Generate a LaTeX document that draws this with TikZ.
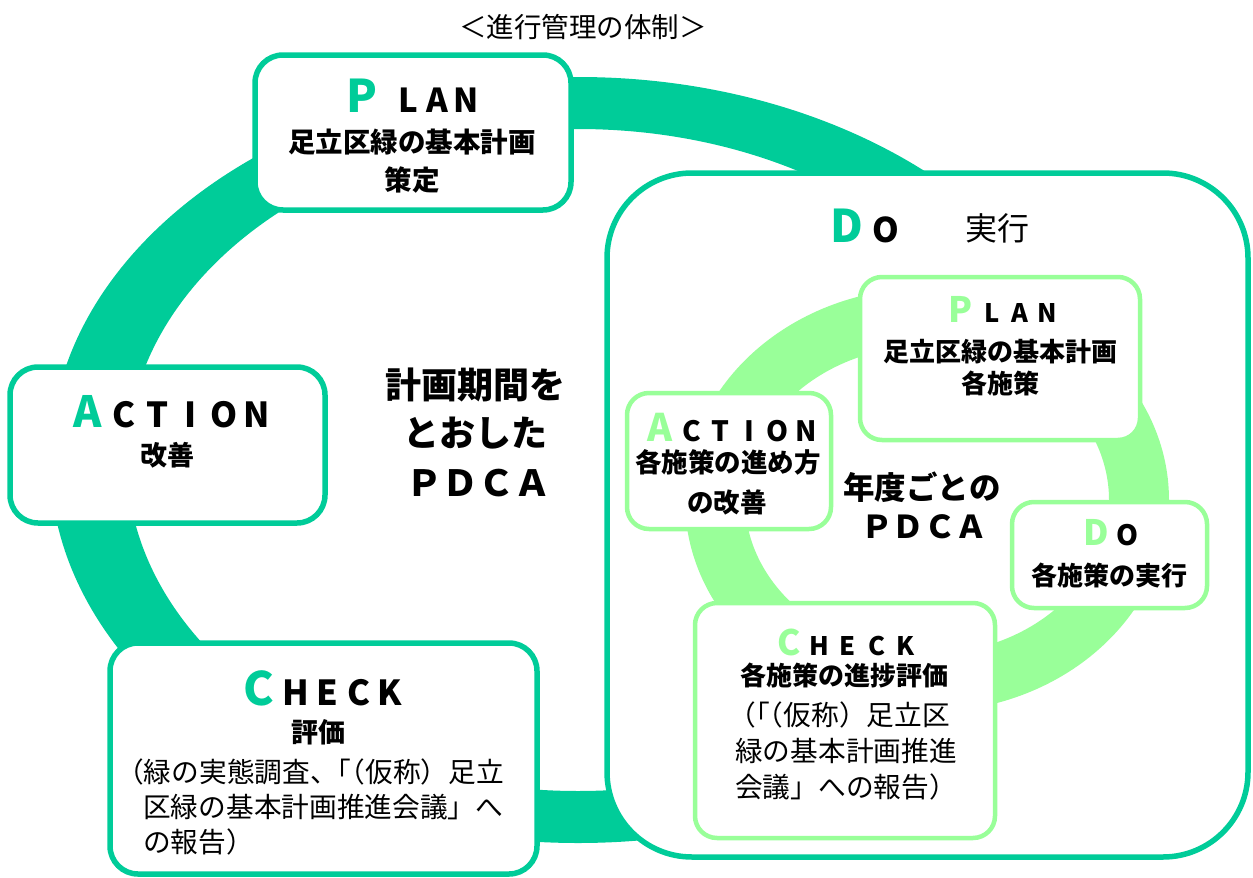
\documentclass[tikz,border=0pt]{standalone}
\usepackage{fontspec}
\setmainfont{Noto Sans CJK JP}
\definecolor{dg}{RGB}{0,204,153}
\definecolor{lg}{RGB}{153,255,153}
\newcommand\fs[1]{\fontsize{#1pt}{#1pt}\selectfont}
\newcommand\bx[2]{\makebox[#1pt]{#2}}
\tikzset{
  obox/.style={draw=dg, line width=5.5pt, fill=white, rounded corners=28pt, inner sep=0pt, rectangle},
  ibox/.style={draw=lg, line width=4.5pt, fill=white, rounded corners=22pt, inner sep=0pt, rectangle},
  bt/.style={inner sep=0pt, font=\bfseries\fs{#1}},
  rt/.style={inner sep=0pt, font=\fs{#1}},
  lt/.style={inner sep=0pt, anchor=base west, font=\bfseries},
}
\begin{document}
\begin{tikzpicture}[x=1pt,y=-1pt]
\useasboundingbox (0,0) rectangle (1253,878);
% title
\node[rt=27.5] (title) at (583,27) {＜進行管理の体制＞};
% outer ring
\fill[dg, even odd rule] (578,460) ellipse [x radius=528pt, y radius=383pt]
  (578,460) ellipse [x radius=451pt, y radius=331pt];
% outer boxes
\node[obox, minimum width=316pt, minimum height=155pt] (plan) at (413,132.5) {};
\node[obox, minimum width=315pt, minimum height=156pt] (action) at (167.5,445) {};
\node[obox, minimum width=427pt, minimum height=231pt] (check) at (323.5,758.5) {};
\node[obox, rounded corners=85pt, minimum width=641pt, minimum height=684pt] (do) at (927.5,515) {};
% inner ring
\fill[lg, even odd rule] (927,500) ellipse [x radius=242pt, y radius=212pt]
  (927,500) ellipse [x radius=182pt, y radius=154pt];
% inner boxes
\node[ibox, minimum width=280pt, minimum height=163pt] (iplan) at (1000,358.5) {};
\node[ibox, minimum width=204pt, minimum height=136pt] (iaction) at (729,461) {};
\node[ibox, minimum width=195pt, minimum height=106pt] (ido) at (1109.5,555) {};
\node[ibox, minimum width=300pt, minimum height=235pt] (icheck) at (845,720.5) {};
% outer texts
\node[lt] (planL) at (330.5,112) {{\fs{45}\color{dg}\bx{63}{P}}{\fs{33}\bx{29}{L}\bx{29}{A}\bx{29}{N}}};
\node[bt=27.5] (plan1) at (412,142) {足立区緑の基本計画};
\node[bt=27.5] (plan2) at (412,180) {策定};
\node[lt] (actionL) at (68.6,427) {{\fs{43}\color{dg}\bx{38.75}{A}}{\fs{34.5}\bx{33.25}{C}\bx{33.25}{T}\bx{33.25}{I}\bx{33.25}{O}\bx{33.25}{N}}};
\node[bt=27] (action1) at (167,455) {改善};
\node[lt] (checkL) at (237.6,705) {{\fs{46}\color{dg}\bx{42.7}{C}}{\fs{34.5}\bx{31.3}{H}\bx{31.3}{E}\bx{31.3}{C}\bx{31.3}{K}}};
\node[bt=27] (check1) at (318,732) {評価};
\node[rt=27.7, anchor=west] (check2) at (116,772) {（緑の実態調査、\kern-.5em「\kern-.5em（仮称）足立};
\node[rt=27.7, anchor=west] (check3) at (143,807) {区緑の基本計画推進会議」へ};
\node[rt=27.7, anchor=west] (check4) at (143,842) {の報告）};
\node[lt] (doL) at (823,242) {{\fs{45}\color{dg}\bx{48}{D}}{\fs{34}\bx{30}{O}}};
\node[rt=32] (do1) at (997,228) {実行};
% centre texts
\node[bt=36] (m1) at (475,385) {計画期間を};
\node[bt=36] (m2) at (475,433) {とおした};
\node[bt=36] (m3) at (478,483) {ＰＤＣＡ};
% inner texts
\node[lt] (iplanL) at (941.75,322) {{\fs{35}\color{lg}\bx{36.5}{P}}{\fs{25.5}\bx{27.5}{L}\bx{27.5}{A}\bx{27.5}{N}}};
\node[bt=26] (iplan1) at (1000,352) {足立区緑の基本計画};
\node[bt=26] (iplan2) at (1000,383) {各施策};
\node[lt] (iactionL) at (642.25,441) {{\fs{38}\color{lg}\bx{35.5}{A}}{\fs{28}\bx{28.5}{C}\bx{28.5}{T}\bx{28.5}{I}\bx{28.5}{O}\bx{28.5}{N}}};
\node[bt=26.5] (iaction1) at (728,462) {各施策の進め方};
\node[bt=26.5] (iaction2) at (727,502) {の改善};
\node[lt] (idoL) at (1078,545) {{\fs{35}\color{lg}\bx{36}{D}}{\fs{28}\bx{26}{O}}};
\node[bt=26] (ido1) at (1109,575) {各施策の実行};
\node[lt] (icheckL) at (773.35,655) {{\fs{35}\color{lg}\bx{31.3}{C}}{\fs{25.5}\bx{28.7}{H}\bx{28.7}{E}\bx{28.7}{C}\bx{28.7}{K}}};
\node[bt=26] (icheck1) at (844,675) {各施策の進捗評価};
\node[rt=27.7, anchor=west] (icheck2) at (728,715) {（\kern-.5em「\kern-.5em（仮称）足立区};
\node[rt=27.7, anchor=west] (icheck3) at (735,751) {緑の基本計画推進};
\node[rt=27.7, anchor=west] (icheck4) at (735,787) {会議」への報告）};
\node[bt=31.5] (y1) at (922,487) {年度ごとの};
\node[bt=31.5] (y2) at (924,527) {ＰＤＣＡ};
\end{tikzpicture}
\end{document}
